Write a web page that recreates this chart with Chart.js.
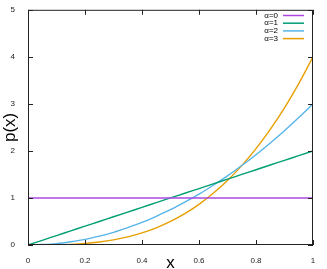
<!DOCTYPE html>
<html>
<head>
<meta charset="utf-8">
<script src="https://cdn.jsdelivr.net/npm/chart.js@4/dist/chart.umd.min.js"></script>
<style>
  html, body { margin: 0; padding: 0; background: #fff; }
  #wrap { width: 327px; height: 269px; }
</style>
</head>
<body>
<div id="wrap"><canvas id="c"></canvas></div>
<script>
const xs = [0, 0.05, 0.1, 0.15, 0.2, 0.25, 0.3, 0.35, 0.4, 0.45, 0.5,
            0.55, 0.6, 0.65, 0.7, 0.75, 0.8, 0.85, 0.9, 0.95, 1];
const alpha0 = [1, 1, 1, 1, 1, 1, 1, 1, 1, 1, 1, 1, 1, 1, 1, 1, 1, 1, 1, 1, 1];
const alpha1 = [0, 0.1, 0.2, 0.3, 0.4, 0.5, 0.6, 0.7, 0.8, 0.9, 1.0,
                1.1, 1.2, 1.3, 1.4, 1.5, 1.6, 1.7, 1.8, 1.9, 2.0];
const alpha2 = [0, 0.01, 0.03, 0.07, 0.12, 0.19, 0.27, 0.37, 0.48, 0.61, 0.75,
                0.91, 1.08, 1.27, 1.47, 1.69, 1.92, 2.17, 2.43, 2.71, 3.0];
const alpha3 = [0, 0.0, 0.004, 0.014, 0.032, 0.063, 0.108, 0.172, 0.256, 0.365, 0.5,
                0.666, 0.864, 1.099, 1.372, 1.688, 2.048, 2.457, 2.916, 3.43, 4.0];
const seriesLabels = ["α=0", "α=1", "α=2", "α=3"];
const xTicks = [0, 0.2, 0.4, 0.6, 0.8, 1];
const yTicks = [0, 1, 2, 3, 4, 5];

const colors = ["#a848e0", "#009e73", "#56b4e9", "#e69f00"];
const FONT = "'Liberation Sans', Arial, sans-serif";

function pts(ys) { return xs.map((x, i) => ({ x: x, y: ys[i] })); }

const frame = {
  id: "frame",
  afterDraw(chart) {
    const { ctx, chartArea: a, scales } = chart;
    ctx.save();
    ctx.strokeStyle = "#222";
    ctx.lineWidth = 1;
    ctx.strokeRect(a.left + 0.5, a.top + 0.5, a.right - a.left - 1, a.bottom - a.top - 1);
    ctx.beginPath();
    xTicks.forEach(v => {
      const px = Math.round(scales.x.getPixelForValue(v)) + 0.5;
      ctx.moveTo(px, a.bottom); ctx.lineTo(px, a.bottom - 5);
      ctx.moveTo(px, a.top); ctx.lineTo(px, a.top + 5);
    });
    yTicks.forEach(v => {
      const py = Math.round(scales.y.getPixelForValue(v)) + 0.5;
      ctx.moveTo(a.left, py); ctx.lineTo(a.left + 5, py);
      ctx.moveTo(a.right, py); ctx.lineTo(a.right - 5, py);
    });
    ctx.stroke();

    // legend
    ctx.font = "8px " + FONT;
    ctx.textAlign = "right";
    ctx.textBaseline = "middle";
    seriesLabels.forEach((lab, i) => {
      const y = 15.5 + i * 7.7;
      ctx.fillStyle = "#000";
      ctx.fillText(lab, 278, y);
      ctx.strokeStyle = colors[i];
      ctx.lineWidth = 1.5;
      ctx.beginPath();
      ctx.moveTo(283, y); ctx.lineTo(304, y);
      ctx.stroke();
    });

    // axis titles
    ctx.fillStyle = "#000";
    ctx.font = "17px " + FONT;
    ctx.textAlign = "center";
    ctx.fillText("x", (a.left + a.right) / 2, 263);
    ctx.translate(10, (a.top + a.bottom) / 2);
    ctx.rotate(-Math.PI / 2);
    ctx.fillText("p(x)", 0, 0);
    ctx.restore();
  }
};

new Chart(document.getElementById("c"), {
  type: "line",
  data: {
    datasets: [alpha0, alpha1, alpha2, alpha3].map((d, i) => ({
      label: seriesLabels[i],
      data: pts(d),
      borderColor: colors[i],
      borderWidth: 1.4,
      pointRadius: 0,
      cubicInterpolationMode: "monotone",
      fill: false
    }))
  },
  options: {
    responsive: true,
    maintainAspectRatio: false,
    animation: false,
    layout: { padding: { top: 5, right: 14, bottom: 0, left: 0 } },
    plugins: { legend: { display: false }, tooltip: { enabled: false } },
    scales: {
      x: {
        type: "linear", min: 0, max: 1,
        afterBuildTicks: s => { s.ticks = xTicks.map(v => ({ value: v })); },
        afterFit: s => { s.height = 24; },
        grid: { display: false },
        border: { display: false },
        ticks: { font: { size: 8, family: FONT }, color: "#222", padding: 3,
                 maxRotation: 0, callback: v => String(v) }
      },
      y: {
        type: "linear", min: 0, max: 5,
        afterBuildTicks: s => { s.ticks = yTicks.map(v => ({ value: v })); },
        afterFit: s => { s.width = 28; },
        grid: { display: false },
        border: { display: false },
        ticks: { font: { size: 8, family: FONT }, color: "#222", padding: 5 }
      }
    }
  },
  plugins: [frame]
});
</script>
</body>
</html>
